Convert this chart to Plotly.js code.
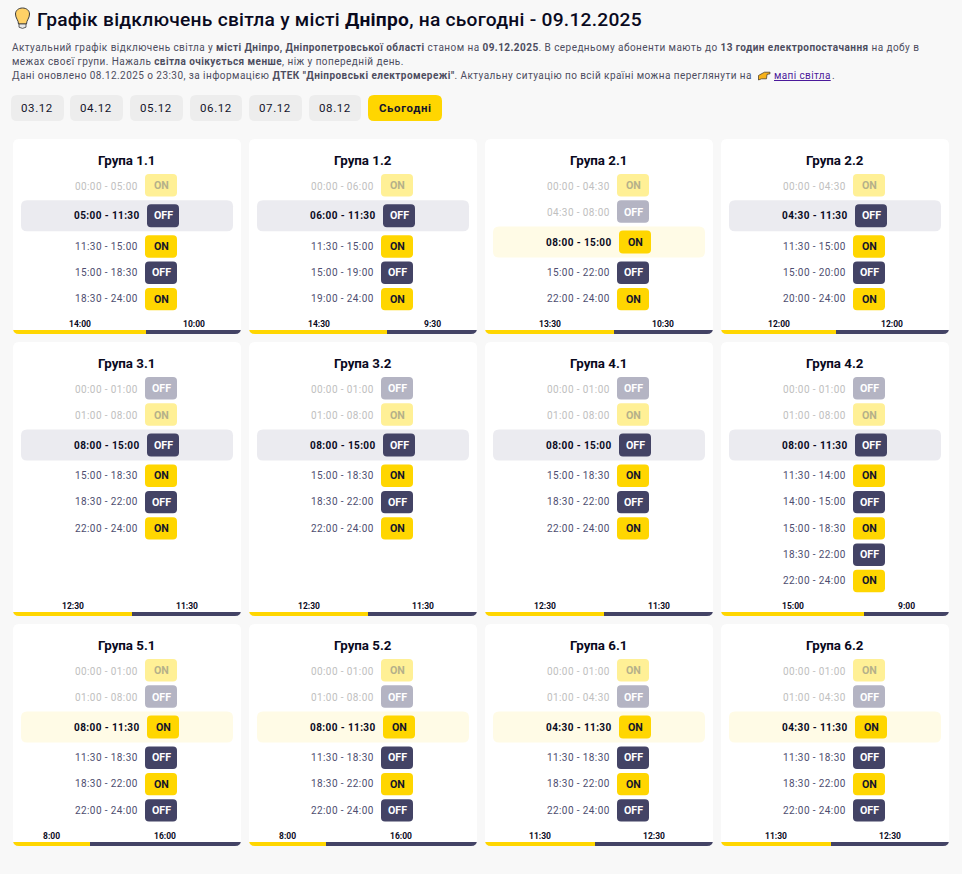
<!DOCTYPE html>
<html><head><meta charset="utf-8">
<script src="https://cdn.plot.ly/plotly-3.0.1.min.js"></script>
<style>html,body{margin:0;padding:0;background:#f8f8f8}#c{width:962px;height:874px}</style>
</head><body><div id="c"></div>
<script>
// ---------- DATA ----------
const pageTitle = "Графік відключень світла у місті <b>Дніпро</b>, на сьогодні - 09.12.2025";
const introLines = [
 "Актуальний графік відключень світла у <b>місті Дніпро, Дніпропетровської області</b> станом на <b>09.12.2025</b>. В середньому абоненти мають до <b>13 годин електропостачання</b> на добу в",
 "межах своєї групи. Нажаль <b>світла очікується менше</b>, ніж у попередній день.",
 "Дані оновлено 08.12.2025 о 23:30, за інформацією <b>ДТЕК \"Дніпровські електромережі\"</b>. Актуальну ситуацію по всій країні можна переглянути на"
];
const mapLink = "мапі світла";
const dayTabs = ["03.12","04.12","05.12","06.12","07.12","08.12"];
const todayTab = "Сьогодні";
const groupNames = ["Група 1.1","Група 1.2","Група 2.1","Група 2.2","Група 3.1","Група 3.2","Група 4.1","Група 4.2","Група 5.1","Група 5.2","Група 6.1","Група 6.2"];
const periods = [
 ["00:00 - 05:00","05:00 - 11:30","11:30 - 15:00","15:00 - 18:30","18:30 - 24:00"],
 ["00:00 - 06:00","06:00 - 11:30","11:30 - 15:00","15:00 - 19:00","19:00 - 24:00"],
 ["00:00 - 04:30","04:30 - 08:00","08:00 - 15:00","15:00 - 22:00","22:00 - 24:00"],
 ["00:00 - 04:30","04:30 - 11:30","11:30 - 15:00","15:00 - 20:00","20:00 - 24:00"],
 ["00:00 - 01:00","01:00 - 08:00","08:00 - 15:00","15:00 - 18:30","18:30 - 22:00","22:00 - 24:00"],
 ["00:00 - 01:00","01:00 - 08:00","08:00 - 15:00","15:00 - 18:30","18:30 - 22:00","22:00 - 24:00"],
 ["00:00 - 01:00","01:00 - 08:00","08:00 - 15:00","15:00 - 18:30","18:30 - 22:00","22:00 - 24:00"],
 ["00:00 - 01:00","01:00 - 08:00","08:00 - 11:30","11:30 - 14:00","14:00 - 15:00","15:00 - 18:30","18:30 - 22:00","22:00 - 24:00"],
 ["00:00 - 01:00","01:00 - 08:00","08:00 - 11:30","11:30 - 18:30","18:30 - 22:00","22:00 - 24:00"],
 ["00:00 - 01:00","01:00 - 08:00","08:00 - 11:30","11:30 - 18:30","18:30 - 22:00","22:00 - 24:00"],
 ["00:00 - 01:00","01:00 - 04:30","04:30 - 11:30","11:30 - 18:30","18:30 - 22:00","22:00 - 24:00"],
 ["00:00 - 01:00","01:00 - 04:30","04:30 - 11:30","11:30 - 18:30","18:30 - 22:00","22:00 - 24:00"]
];
const states = [
 ["ON","OFF","ON","OFF","ON"],
 ["ON","OFF","ON","OFF","ON"],
 ["ON","OFF","ON","OFF","ON"],
 ["ON","OFF","ON","OFF","ON"],
 ["OFF","ON","OFF","ON","OFF","ON"],
 ["OFF","ON","OFF","ON","OFF","ON"],
 ["OFF","ON","OFF","ON","OFF","ON"],
 ["OFF","ON","OFF","ON","OFF","ON","OFF","ON"],
 ["ON","OFF","ON","OFF","ON","OFF"],
 ["ON","OFF","ON","OFF","ON","OFF"],
 ["ON","OFF","ON","OFF","ON","OFF"],
 ["ON","OFF","ON","OFF","ON","OFF"]
];
const currentPeriod = [1,1,2,1,2,2,2,2,2,2,2,2];
const onHours  = [14,14.5,13.5,12,12.5,12.5,12.5,15,8,8,11.5,11.5];
const offHours = [10,9.5,10.5,12,11.5,11.5,11.5,9,16,16,12.5,12.5];

// ---------- STYLE / LAYOUT ----------
const W=962,H=874,FONT="Roboto, sans-serif";
const BG="#f8f8f8",YEL="#ffd600",DARK="#434365",INK="#0a0a1e",BODY="#4d4d5f";
const DIM_ON="#fff096",DIM_OFF="#b4b4c3",HL_OFF="#ebebf0",HL_ON="#fffbe6",TIME="#4e4e70",TIME_DIM="#c0c0c0";
const cardX=[13,249,485,721],cardW=228;
const rows=[[139,334],[342,616],[624,846]];
const shapes=[],annotations=[],traces=[];
const layout={width:W,height:H,margin:{l:0,r:0,t:0,b:0,pad:0},paper_bgcolor:BG,plot_bgcolor:"rgba(0,0,0,0)",
  showlegend:false,barmode:"stack",bargap:0,hovermode:false,
  xaxis:{range:[0,W],visible:false,fixedrange:true,domain:[0,1]},
  yaxis:{range:[H,0],visible:false,fixedrange:true,domain:[0,1]}};
traces.push({type:"scatter",x:[0],y:[0],mode:"none",xaxis:"x",yaxis:"y",hoverinfo:"skip"});

function rr(x,y,w,h,r){return `M${x+r},${y}H${x+w-r}Q${x+w},${y} ${x+w},${y+r}V${y+h-r}Q${x+w},${y+h} ${x+w-r},${y+h}H${x+r}Q${x},${y+h} ${x},${y+h-r}V${y+r}Q${x},${y} ${x+r},${y}Z`;}
function box(x,y,w,h,r,fill,layer){shapes.push({type:"path",path:rr(x,y,w,h,r),xref:"x",yref:"y",fillcolor:fill,line:{width:0},layer:layer||"below"});}
function label(x,y,text,size,color,anchor,extra){
  annotations.push(Object.assign({x,y,xref:"x",yref:"y",text,showarrow:false,xanchor:anchor||"left",yanchor:"middle",align:anchor||"left",
    font:{family:FONT,size,color},borderpad:0,borderwidth:0},extra||{}));
}
function sp(t,ls){return `<span style="letter-spacing:${ls}px">${t}</span>`;}

// Header
label(37,19,sp(pageTitle,.25),19.2,INK,"left",{font:{family:FONT,size:19.2,color:INK,weight:500}});
const introY=[47.5,61.5,75];
introLines.forEach((t,i)=>label(12,introY[i],sp(t,.44),10,BODY,"left"));
label(774,75,`<span style="letter-spacing:.38px;text-decoration:underline">${mapLink}</span>`,10,"#4b1a9b","left");
label(831.5,75,".",10,BODY,"left");

// bulb icon
shapes.push({type:"path",xref:"x",yref:"y",layer:"below",fillcolor:"#ffd166",line:{color:"#3c3c3c",width:1},
  path:"M18.5,24 C18.5,20 15.5,18.5 15.5,14 C15.5,10.5 18.5,8 22.5,8 C26.5,8 29.5,10.5 29.5,14 C29.5,18.5 26.5,20 26.5,24 Z"});
shapes.push({type:"path",xref:"x",yref:"y",layer:"below",fillcolor:"#e8e8e8",line:{color:"#3c3c3c",width:.8},
  path:"M19,24 H26 V27.2 Q22.5,29.6 19,27.2 Z"});
// pointing hand icon
shapes.push({type:"path",xref:"x",yref:"y",layer:"below",fillcolor:"#f7b21a",line:{color:"#3c3020",width:.7},
  path:"M758.5,75.5 L762,73.5 L764.5,72.2 L770,72.2 L770,73.8 L767,74.4 L766.5,78.8 L761.5,78.8 L758.5,80 Z"});

// Tabs
const tabX=[[11,53],[70,53],[130,53],[190,52],[249,53],[309,52]];
dayTabs.forEach((t,i)=>{
  box(tabX[i][0],95,tabX[i][1],26,6,"#ededed");
  label(tabX[i][0]+tabX[i][1]/2-.3,108,sp(t,.6),11.5,"#14142b","center");
});
box(368,95,74,26,6,YEL);
label(405,108,`<b>${sp(todayTab,.65)}</b>`,11.4,"#14142b","center");

// Cards
groupNames.forEach((name,k)=>{
  const col=k%4,[top,bot]=rows[Math.floor(k/4)],x0=cardX[col];
  box(x0,top,cardW,bot-top,6,"#ffffff");
  label(x0+113.6,top+21.4,`<b>${name}</b>`,13.3,INK,"center");
  let c=top+35;
  periods[k].forEach((p,i)=>{
    const st=states[k][i],cur=i===currentPeriod[k],past=i<currentPeriod[k];
    if(cur){
      box(x0+8,c,212,31,6,st==="ON"?HL_ON:HL_OFF);
      box(x0+134,c+4,32,23,4,st==="ON"?YEL:DARK);
      label(x0+126.5,c+15.5,`<b>${sp(p,.4)}</b>`,10,INK,"right");
      label(x0+150,c+15.5,`<b>${st}</b>`,10.67,st==="ON"?"#14142b":"#ffffff","center");
      c+=35;
    }else{
      box(x0+132,c,32,22.4,4,st==="ON"?(past?DIM_ON:YEL):(past?DIM_OFF:DARK));
      label(x0+125,c+(past?12:11),sp(p,.4),10,past?TIME_DIM:TIME,"right");
      label(x0+148,c+(past?11.7:11.1),`<b>${st}</b>`,10.67,st==="ON"?(past?"#b5b08a":"#14142b"):"#ffffff","center");
      c+=26.3;
    }
  });
  // bottom on/off bar through its own hour scale
  const xa="x"+(k+2),ya="y"+(k+2),yk=k+2;
  layout["xaxis"+yk]={domain:[(x0+1)/W,(x0+cardW)/W],range:[0,24],visible:false,fixedrange:true,anchor:ya};
  layout["yaxis"+yk]={domain:[1-bot/H,1-(bot-4)/H],range:[-.5,.5],visible:false,fixedrange:true,anchor:xa};
  traces.push({type:"bar",orientation:"h",y:[0],x:[onHours[k]],marker:{color:YEL,line:{width:0}},xaxis:xa,yaxis:ya,hoverinfo:"skip"});
  traces.push({type:"bar",orientation:"h",y:[0],x:[offHours[k]],marker:{color:DARK,line:{width:0}},xaxis:xa,yaxis:ya,hoverinfo:"skip"});
  // the left end of the bar starts at the card edge
  box(x0,bot-4,2,4,0,YEL,"below");
  const fmt=h=>Math.floor(h)+":"+(h%1?"30":"00");
  [[onHours[k]/2,onHours[k]],[onHours[k]+offHours[k]/2,offHours[k]]].forEach(([hx,v])=>{
    annotations.push({x:hx,y:bot-10,xref:xa,yref:"y",text:`<b>${fmt(v)}</b>`,showarrow:false,xanchor:"center",yanchor:"middle",
      font:{family:FONT,size:8.5,color:INK}});
  });
  // card corners over the bar ends
  [[x0,bot,1],[x0+cardW,bot,-1]].forEach(([cx,cy,d])=>{
    shapes.push({type:"path",xref:"x",yref:"y",layer:"above",fillcolor:BG,line:{width:0},
      path:`M${cx},${cy-6}L${cx},${cy}L${cx+d*6},${cy}Q${cx},${cy} ${cx},${cy-6}Z`});
  });
});
layout.shapes=shapes;layout.annotations=annotations;
Plotly.newPlot("c",traces,layout,{displayModeBar:false,responsive:false,staticPlot:true});
</script></body></html>
